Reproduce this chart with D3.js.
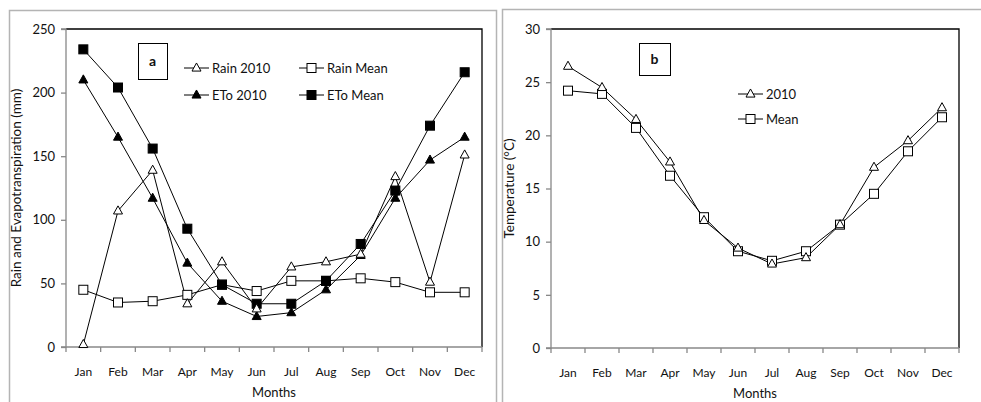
<!DOCTYPE html>
<html>
<head>
<meta charset="utf-8">
<script src="https://cdn.jsdelivr.net/npm/d3@7"></script>
<style>
  body { margin: 0; background: #fff; }
  svg text { font-family: Lato, "Noto Sans", sans-serif; fill: #111; }
</style>
</head>
<body>
<svg id="chart"></svg>
<script>
// Constants for dimensions
const width = 981;
const height = 402;

// Data
const months = ["Jan", "Feb", "Mar", "Apr", "May", "Jun", "Jul", "Aug", "Sep", "Oct", "Nov", "Dec"];
const rain2010 = [2, 107, 139, 34, 67, 30, 63, 67, 73, 134, 51, 151];
const rainMean = [45, 35, 36, 41, 49, 44, 52, 52, 54, 51, 43, 43];
const eto2010 = [210, 165, 117, 66, 36, 24, 27, 45, 72, 117, 147, 165];
const etoMean = [234, 204, 156, 93, 49, 34, 34, 52, 81, 123, 174, 216];
const temp2010 = [26.5, 24.5, 21.5, 17.5, 12.0, 9.4, 7.9, 8.5, 11.6, 17.0, 19.5, 22.6];
const tempMean = [24.2, 23.9, 20.7, 16.2, 12.3, 9.1, 8.2, 9.1, 11.6, 14.5, 18.5, 21.7];
const ticksA = [0, 50, 100, 150, 200, 250];
const ticksB = [0, 5, 10, 15, 20, 25, 30];

const svg = d3.select("#chart")
  .attr("width", width)
  .attr("height", height);

// Outer frames of the two panels (cut off at the bottom / right)
svg.append("rect").attr("x", 9.5).attr("y", 10.5).attr("width", 487).attr("height", 500)
  .attr("fill", "none").attr("stroke", "#b4b4b4").attr("stroke-width", 1.5);
svg.append("rect").attr("x", 502.5).attr("y", 9.5).attr("width", 520).attr("height", 500)
  .attr("fill", "none").attr("stroke", "#b4b4b4").attr("stroke-width", 1.5);

// Marker drawing
function marker(g, x, y, type, size) {
  const s = size || 9;
  if (type === "tri-open" || type === "tri-fill") {
    const h = s * 0.9;
    g.append("path")
      .attr("d", `M${x},${y - h * 0.62}L${x + s / 2},${y + h * 0.38}L${x - s / 2},${y + h * 0.38}Z`)
      .attr("fill", type === "tri-fill" ? "#000" : "#fff")
      .attr("stroke", "#000").attr("stroke-width", 1);
  } else {
    g.append("rect")
      .attr("x", x - s / 2).attr("y", y - s / 2)
      .attr("width", s).attr("height", s)
      .attr("fill", type === "sq-fill" ? "#000" : "#fff")
      .attr("stroke", "#000").attr("stroke-width", 1);
  }
}

function drawPanel(opts) {
  const { left, right, top, bottom, yMax, ticks, series, yTitle, titleX, letter, letterBox, legend } = opts;
  const g = svg.append("g");

  const xScale = d3.scaleBand().domain(months).range([left, right]);
  const yScale = d3.scaleLinear().domain([0, yMax]).range([bottom, top]);

  // Plot area top and right border
  g.append("path")
    .attr("d", `M${left},${top}H${right}V${bottom}`)
    .attr("fill", "none").attr("stroke", "#000").attr("stroke-width", 1.3);

  // Y axis
  const yAxis = d3.axisLeft(yScale).tickValues(ticks).tickSize(5).tickPadding(6);
  const ya = g.append("g").attr("transform", `translate(${left},0)`).call(yAxis);
  ya.selectAll("path, line").attr("stroke", "#888").attr("stroke-width", 1.3);
  ya.selectAll("text").attr("font-size", 13).attr("fill", "#111");
  ya.select(".domain").attr("d", `M-5,${bottom}H0V${top}H-5`);

  // X axis
  const xAxis = d3.axisBottom(xScale).tickSize(0).tickPadding(20);
  const xa = g.append("g").attr("transform", `translate(0,${bottom})`).call(xAxis);
  xa.select(".domain").attr("stroke", "#888").attr("stroke-width", 1.3)
    .attr("d", `M${left},0H${right}`);
  xa.selectAll("text").attr("font-size", 12).attr("fill", "#111");
  // tick marks at band boundaries
  const bounds = months.map(m => xScale(m)).concat([right]);
  xa.selectAll(".bound").data(bounds).enter().append("line")
    .attr("x1", d => d).attr("x2", d => d).attr("y1", 0).attr("y2", 5)
    .attr("stroke", "#888").attr("stroke-width", 1.3);

  // Axis titles
  g.append("text")
    .attr("x", (left + right) / 2).attr("y", bottom + 50)
    .attr("text-anchor", "middle").attr("font-size", 13).text("Months");
  g.append("text")
    .attr("transform", `translate(${titleX},${(top + bottom) / 2}) rotate(-90)`)
    .attr("text-anchor", "middle").attr("font-size", 13.5).text(yTitle);

  // Series
  const cx = m => xScale(m) + xScale.bandwidth() / 2;
  series.forEach(s => {
    const line = d3.line().x((d, i) => cx(months[i])).y(d => yScale(d));
    g.append("path").datum(s.values).attr("d", line)
      .attr("fill", "none").attr("stroke", "#000").attr("stroke-width", 1);
  });
  series.forEach(s => {
    s.values.forEach((v, i) => marker(g, cx(months[i]), yScale(v), s.type, 9));
  });

  // Panel letter box
  g.append("rect")
    .attr("x", letterBox[0] + 0.5).attr("y", letterBox[1] + 0.5)
    .attr("width", letterBox[2]).attr("height", letterBox[3])
    .attr("fill", "#fff").attr("stroke", "#000").attr("stroke-width", 1);
  g.append("text")
    .attr("x", letterBox[0] + letterBox[2] / 2).attr("y", letterBox[1] + letterBox[3] / 2 + 5)
    .attr("text-anchor", "middle").attr("font-size", 14).attr("font-weight", "bold")
    .text(letter);

  // Legend
  legend.forEach(l => {
    g.append("line").attr("x1", l.x).attr("x2", l.x + 25).attr("y1", l.y).attr("y2", l.y)
      .attr("stroke", "#000").attr("stroke-width", 1);
    marker(g, l.x + 12.5, l.y, l.type, 9);
    g.append("text").attr("x", l.x + 28).attr("y", l.y + 5)
      .attr("font-size", 13).text(l.label);
  });
}

// Panel a: rain and evapotranspiration
drawPanel({
  left: 66, right: 482, top: 29, bottom: 347, yMax: 250, ticks: ticksA,
  series: [
    { values: rainMean, type: "sq-open" },
    { values: etoMean, type: "sq-fill" },
    { values: eto2010, type: "tri-fill" },
    { values: rain2010, type: "tri-open" }
  ],
  yTitle: "Rain and Evapotranspiration (mm)", titleX: 21,
  letter: "a", letterBox: [138, 43, 29, 36],
  legend: [
    { x: 184, y: 68, type: "tri-open", label: "Rain 2010" },
    { x: 299, y: 68, type: "sq-open", label: "Rain Mean" },
    { x: 184, y: 95, type: "tri-fill", label: "ETo 2010" },
    { x: 299, y: 95, type: "sq-fill", label: "ETo Mean" }
  ]
});

// Panel b: temperature
drawPanel({
  left: 551, right: 959, top: 29, bottom: 348, yMax: 30, ticks: ticksB,
  series: [
    { values: tempMean, type: "sq-open" },
    { values: temp2010, type: "tri-open" }
  ],
  yTitle: "Temperature (°C)", titleX: 514,
  letter: "b", letterBox: [639, 43, 31, 32],
  legend: [
    { x: 738, y: 94, type: "tri-open", label: "2010" },
    { x: 738, y: 119, type: "sq-open", label: "Mean" }
  ]
});
</script>
</body>
</html>
